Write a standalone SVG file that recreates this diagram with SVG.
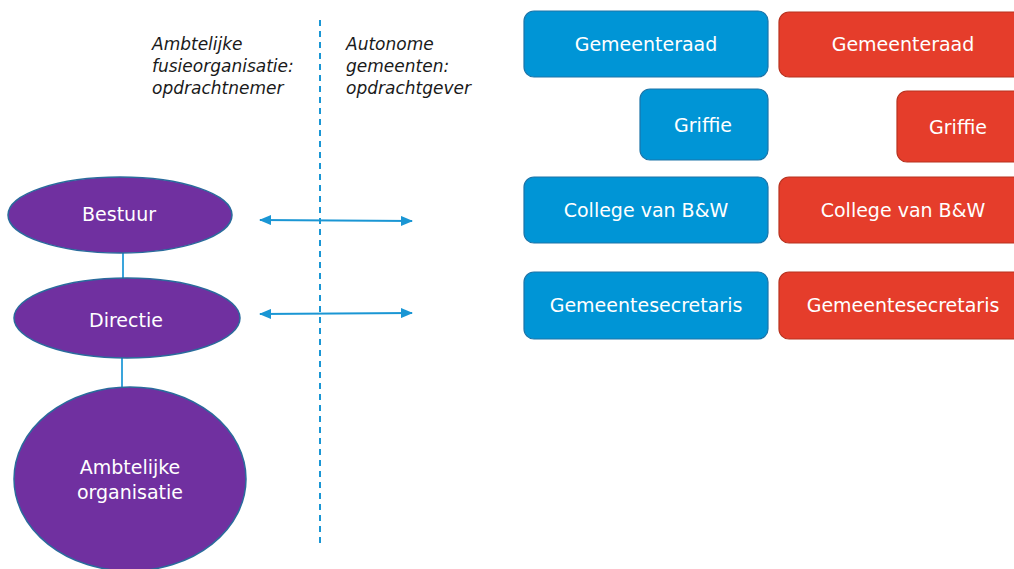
<svg xmlns="http://www.w3.org/2000/svg" width="1014" height="569" viewBox="0 0 1014 569">
<style>
.hdr{font-family:"DejaVu Sans",sans-serif;font-style:italic;font-size:17px;fill:#1a1a1a}
.lbl{font-family:"DejaVu Sans",sans-serif;font-size:19px;fill:#ffffff;text-anchor:middle}
.ell{fill:#7030a0;stroke:#2a6b9c;stroke-width:1.5}
.blue{fill:#0095d6;stroke:#1c74a8;stroke-width:1.2}
.red{fill:#e53d2b;stroke:#b8321f;stroke-width:1.2}
.conn{stroke:#3aa5dc;stroke-width:2;fill:none}
.arr{stroke:#1a96d4;stroke-width:2;fill:none;marker-start:url(#ah);marker-end:url(#ah)}
</style>
<defs>
<marker id="ah" viewBox="0 0 12 10" refX="11" refY="5" markerWidth="12" markerHeight="10" markerUnits="userSpaceOnUse" orient="auto-start-reverse">
<path d="M0,0 L12,5 L0,10 Z" fill="#1a96d4"/>
</marker>
</defs>
<rect width="1014" height="569" fill="#ffffff"/>
<g id="divider">
<line x1="320" y1="20" x2="320" y2="548" stroke="#1a96d4" stroke-width="2" stroke-dasharray="6,5"/>
</g>
<g id="header-left">
<text class="hdr" x="152" y="50">Ambtelijke</text>
<text class="hdr" x="152" y="72">fusieorganisatie:</text>
<text class="hdr" x="152" y="94">opdrachtnemer</text>
</g>
<g id="header-right">
<text class="hdr" x="346" y="50">Autonome</text>
<text class="hdr" x="346" y="72">gemeenten:</text>
<text class="hdr" x="346" y="94">opdrachtgever</text>
</g>
<g id="connectors">
<line class="conn" x1="123" y1="253" x2="123" y2="279"/>
<line class="conn" x1="122" y1="358" x2="122" y2="387"/>
<line class="arr" x1="260" y1="220" x2="412" y2="221"/>
<line class="arr" x1="260" y1="314" x2="412" y2="313"/>
</g>
<g id="bestuur">
<ellipse class="ell" cx="120" cy="215" rx="112" ry="38"/>
<text class="lbl" x="119" y="221">Bestuur</text>
</g>
<g id="directie">
<ellipse class="ell" cx="127" cy="318" rx="113" ry="40"/>
<text class="lbl" x="126" y="327">Directie</text>
</g>
<g id="ambtelijke-organisatie">
<ellipse class="ell" cx="130" cy="479" rx="116" ry="92"/>
<text class="lbl" x="130" y="474">Ambtelijke</text>
<text class="lbl" x="130" y="499">organisatie</text>
</g>
<g id="gemeenteraad-blue">
<rect class="blue" x="524" y="11" width="244" height="66" rx="10"/>
<text class="lbl" x="646" y="51">Gemeenteraad</text>
</g>
<g id="griffie-blue">
<rect class="blue" x="640" y="89" width="128" height="71" rx="10"/>
<text class="lbl" x="703" y="132">Griffie</text>
</g>
<g id="college-blue">
<rect class="blue" x="524" y="177" width="244" height="66" rx="10"/>
<text class="lbl" x="646" y="217">College van B&amp;W</text>
</g>
<g id="secretaris-blue">
<rect class="blue" x="524" y="272" width="244" height="67" rx="10"/>
<text class="lbl" x="646" y="312">Gemeentesecretaris</text>
</g>
<g id="gemeenteraad-red">
<rect class="red" x="779" y="12" width="250" height="65" rx="10"/>
<text class="lbl" x="903" y="51">Gemeenteraad</text>
</g>
<g id="griffie-red">
<rect class="red" x="897" y="91" width="130" height="71" rx="10"/>
<text class="lbl" x="958" y="134">Griffie</text>
</g>
<g id="college-red">
<rect class="red" x="779" y="177" width="250" height="66" rx="10"/>
<text class="lbl" x="903" y="217">College van B&amp;W</text>
</g>
<g id="secretaris-red">
<rect class="red" x="779" y="272" width="250" height="67" rx="10"/>
<text class="lbl" x="903" y="312">Gemeentesecretaris</text>
</g>
</svg>
